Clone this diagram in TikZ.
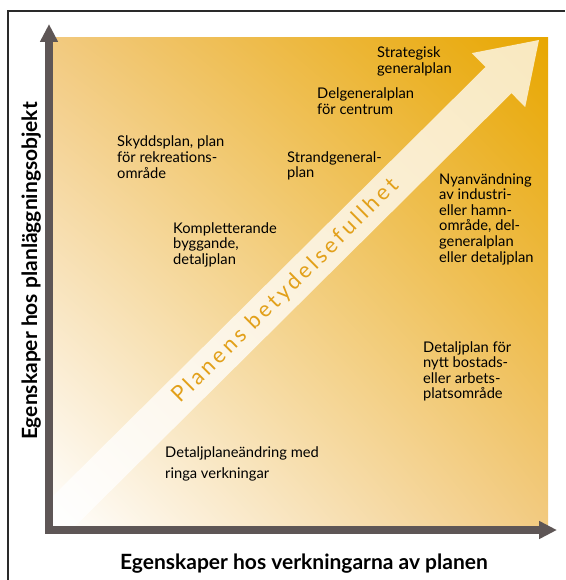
\documentclass[tikz,border=0pt]{standalone}
\usepackage{fontspec}
\setmainfont{Lato}
\usetikzlibrary{arrows.meta,shadings}
\definecolor{axisgray}{HTML}{5E5656}
\definecolor{goldtop}{HTML}{E8A700}
\definecolor{goldside}{HTML}{F2CA80}
\definecolor{goldtext}{HTML}{E2A01A}
\definecolor{framegray}{HTML}{2A2A2A}
\newcommand{\blocktext}[1]{\begin{tabular}[t]{@{}l@{}}#1\end{tabular}}
\begin{document}
\begin{tikzpicture}[x=1pt,y=-1pt,
  planlabel/.style={anchor=base west, inner sep=0pt, font=\fontsize{14.7}{15.6}\selectfont},
  axistitle/.style={inner sep=0pt, font=\fontsize{21}{24}\selectfont\bfseries},
  axisline/.style={draw=axisgray, line width=8pt,
    {Triangle[length=18pt,width=17pt]}-{Triangle[length=18pt,width=17pt]}}]
\useasboundingbox (0,0) rectangle (565,580);

% outer frame
\draw[framegray, line width=1.2pt] (8,580) -- (8,11) -- (565,11);

% graded field
\shade[lower left=white, upper right=goldtop, upper left=goldside, lower right=goldside]
  (50,38) rectangle (548,527);

% broad arrow of significance
\begin{scope}
  \clip (50,38) rectangle (548,527);
  \fill[white, opacity=0.75]
    (22.8,526) -- (485.5,67) -- (471.8,53.1) -- (539,40) -- (525.2,107.1)
    -- (511.5,93.2) -- (48.8,552.2) -- cycle;
\end{scope}
\node[rotate=44.7, text=goldtext, inner sep=0pt,
      font=\fontsize{22}{26}\selectfont\addfontfeature{LetterSpace=15}]
  (significance) at (286,291) {Planens betydelsefullhet};

% axes
\draw[axisline] (49,24) -- (49,530) -- (557,530);

% axis titles
\node[axistitle, anchor=base] (xtitle) at (304,569) {Egenskaper hos verkningarna av planen};
\node[axistitle, anchor=base, rotate=90] (ytitle) at (37,271) {Egenskaper hos planläggningsobjekt};

% plan types
\node[planlabel] (strategisk) at (377,58) {\blocktext{Strategisk\\generalplan}};
\node[planlabel] (delgeneral) at (317,99) {\blocktext{Delgeneralplan\\för centrum}};
\node[planlabel] (skydd) at (117,147) {\blocktext{Skyddsplan, plan\\för rekreations-\\område}};
\node[planlabel] (strand) at (287,162) {\blocktext{Strandgeneral-\\plan}};
\node[planlabel] (nyanv) at (439,184) {\blocktext{Nyanvändning\\av industri-\\eller hamn-\\område, del-\\generalplan\\eller detaljplan}};
\node[planlabel] (kompl) at (173,233) {\blocktext{Kompletterande\\byggande,\\detaljplan}};
\node[planlabel] (nytt) at (423,352) {\blocktext{Detaljplan för\\nytt bostads-\\eller arbets-\\platsområde}};
\node[planlabel] (andring) at (165,457) {\blocktext{Detaljplaneändring med\\[5.5pt]ringa verkningar}};
\end{tikzpicture}
\end{document}
